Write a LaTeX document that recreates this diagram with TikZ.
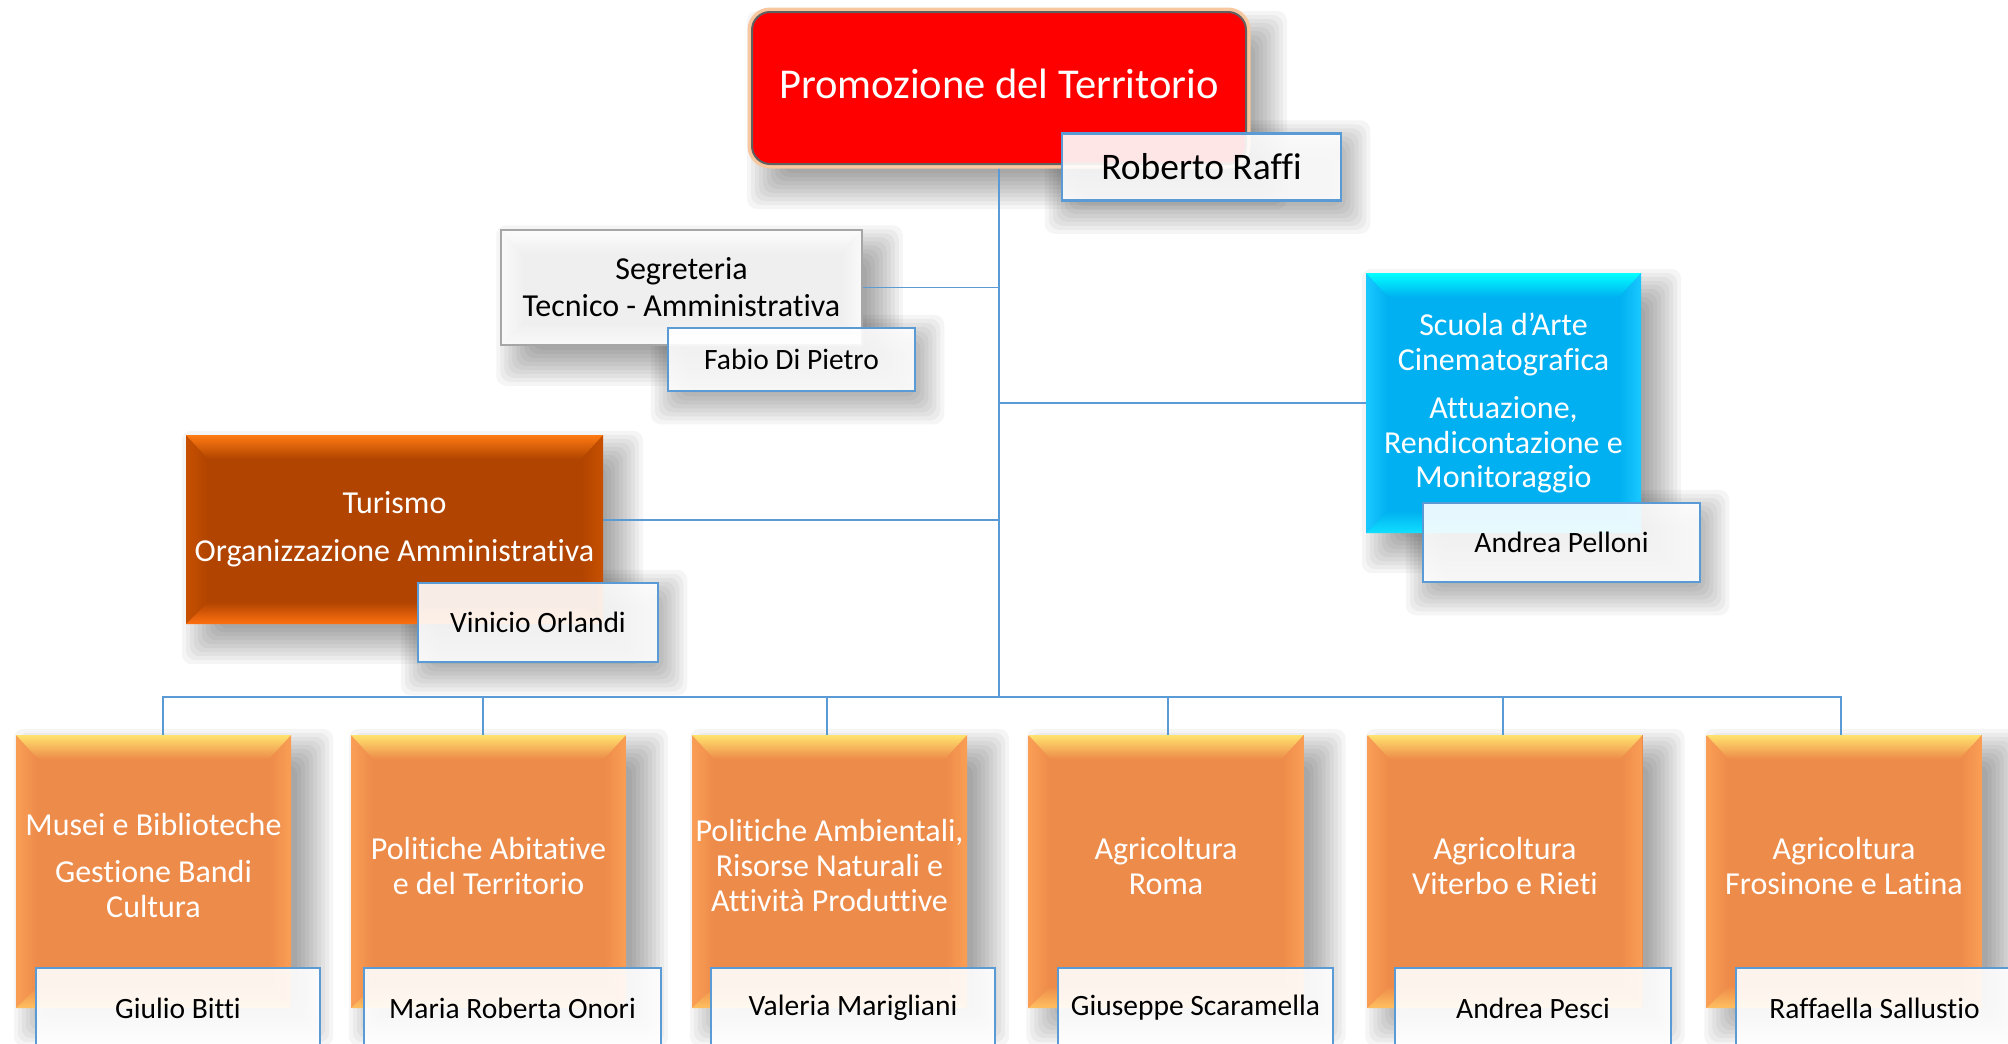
\documentclass[tikz,border=0pt]{standalone}
\usepackage{fontspec}
\setmainfont{Carlito}[Ligatures=NoCommon]
\usetikzlibrary{calc}
\definecolor{conn}{HTML}{5B9BD5}
\definecolor{nameb}{HTML}{5B9BD5}
\definecolor{orMain}{HTML}{ED8B4A}
\definecolor{orTop}{HTML}{FFE36E}
\definecolor{orSide}{HTML}{FA9E55}
\definecolor{orBot}{HTML}{FFC060}
\definecolor{tuMain}{HTML}{B04400}
\definecolor{tuTop}{HTML}{FF7A12}
\definecolor{tuSide}{HTML}{C85000}
\definecolor{tuBot}{HTML}{FF7010}
\definecolor{scMain}{HTML}{00B0F0}
\definecolor{scTop}{HTML}{00FFFF}
\definecolor{scSide}{HTML}{1AC8FF}
\definecolor{scBot}{HTML}{10E0FF}
\definecolor{sgMain}{HTML}{EFEFEF}
\definecolor{sgTop}{HTML}{FCFCFC}
\definecolor{sgSide}{HTML}{FAFAFA}
\definecolor{sgBot}{HTML}{FAFAFA}
\definecolor{glow}{HTML}{F7C7A0}
\definecolor{redbox}{HTML}{FF0000}

\pgfdeclarelayer{bg}
\pgfdeclarelayer{shadow}
\pgfdeclarelayer{links}
\pgfsetlayers{bg,shadow,links,main}

\newcommand\softshadow[3]{%
 \begin{pgfonlayer}{shadow}
 \foreach \e in {22,18,...,-14}{
   \pgfmathsetmacro\ax{#2-(\e)}\pgfmathsetmacro\ay{-#3+(\e)}
   \pgfmathsetmacro\bx{#2+(\e)}\pgfmathsetmacro\by{-#3-(\e)}
   \fill[black,opacity=0.038,rounded corners=10pt] ([shift={(\ax pt,\ay pt)}]#1.north west) rectangle ([shift={(\bx pt,\by pt)}]#1.south east);
 }
 \end{pgfonlayer}}

\tikzset{
 bevel/.style n args={4}{fill=#1, path picture={
   \path (path picture bounding box.north west) coordinate (Pa)
         (path picture bounding box.north east) coordinate (Pb)
         (path picture bounding box.south east) coordinate (Pc)
         (path picture bounding box.south west) coordinate (Pd);
   \path (Pa) ++(22pt,-24pt) coordinate (Qa)
         (Pb) ++(-22pt,-24pt) coordinate (Qb)
         (Pc) ++(-22pt,22pt) coordinate (Qc)
         (Pd) ++(22pt,22pt) coordinate (Qd);
   \shade[left color=#3,right color=#1] (Pa)--(Qa)--(Qd)--(Pd)--cycle;
   \shade[left color=#1,right color=#3] (Pb)--(Qb)--(Qc)--(Pc)--cycle;
   \shade[top color=#2,bottom color=#1] (Pa)--(Pb)--(Qb)--(Qa)--cycle;
   \shade[top color=#1,bottom color=#4] (Pd)--(Qd)--(Qc)--(Pc)--cycle;
 }},
 box/.style={inner sep=0pt, align=center, text=white, font=\fontsize{32}{35}\selectfont},
 botbox/.style={box, bevel={orMain}{orTop}{orSide}{orBot}, minimum width=275pt, minimum height=273pt},
 namebox/.style={draw=nameb, line width=2.5pt, fill=white, fill opacity=0.9, text opacity=1,
   text=black, inner sep=0pt, align=center, font=\fontsize{29.5}{35}\selectfont},
 link/.style={draw=conn, line width=1.8pt},
}

\begin{document}
\begin{tikzpicture}[x=1pt,y=-1pt]
\useasboundingbox (0,0) rectangle (2008,1044);
\begin{pgfonlayer}{bg}
\fill[white] (0,0) rectangle (2008,1044);
\end{pgfonlayer}

% top
\node[draw=gray!75!black, line width=2pt, rounded corners=18pt, fill=redbox,
  preaction={draw=glow, line width=9pt, rounded corners=18pt},
  minimum width=494pt, minimum height=152pt, inner sep=0pt, text=white,
  font=\fontsize{42.5}{48}\selectfont] (top) at (999,88) {\raisebox{9pt}{Promozione del Territorio}};
\node[namebox, minimum width=279pt, minimum height=67pt, font=\fontsize{37.5}{40}\selectfont] (raffi) at (1201.5,167) {Roberto Raffi};

% segreteria
\node[box, text=black, font=\fontsize{32}{37}\selectfont, draw=gray!70, line width=1.5pt,
  bevel={sgMain}{sgTop}{sgSide}{sgBot}, minimum width=361pt, minimum height=115pt] (seg) at (681.5,287.5)
  {Segreteria\\Tecnico - Amministrativa};
\node[namebox, minimum width=247pt, minimum height=63pt] (fabio) at (791.5,359.5) {Fabio Di Pietro};

% turismo
\node[box, font=\fontsize{32}{35}\selectfont, bevel={tuMain}{tuTop}{tuSide}{tuBot},
  minimum width=417pt, minimum height=189pt] (tur) at (394.5,529.5)
  {Turismo\\[13pt]Organizzazione Amministrativa};
\node[namebox, minimum width=240pt, minimum height=79pt] (orl) at (538,622.5) {Vinicio Orlandi};

% scuola
\node[box, font=\fontsize{32}{34.5}\selectfont, bevel={scMain}{scTop}{scSide}{scBot},
  minimum width=275pt, minimum height=260pt] (scu) at (1503.5,403)
  {Scuola d’Arte\\Cinematografica\\[14pt]Attuazione,\\Rendicontazione e\\Monitoraggio};
\node[namebox, minimum width=277pt, minimum height=79pt] (pel) at (1561.5,542.5) {Andrea Pelloni};

% bottom row
\node[botbox] (b1) at (153.5,871.5) {Musei e Biblioteche\\[12pt]Gestione Bandi\\Cultura\\[-23pt]};
\node[botbox] (b2) at (488.5,871.5) {Politiche Abitative\\e del Territorio\\[-23pt]};
\node[botbox] (b3) at (829.5,871.5) {Politiche Ambientali,\\Risorse Naturali e\\Attività Produttive\\[-23pt]};
\node[botbox] (b4) at (1166,871.5) {Agricoltura\\Roma\\[-23pt]};
\node[botbox] (b5) at (1505,871.5) {Agricoltura\\Viterbo e Rieti\\[-23pt]};
\node[botbox] (b6) at (1844,871.5) {Agricoltura\\Frosinone e Latina\\[-23pt]};

\node[namebox, minimum width=284pt, minimum height=80pt] (n1) at (178,1008) {Giulio Bitti};
\node[namebox, minimum width=297pt, minimum height=80pt] (n2) at (512.5,1008) {Maria Roberta Onori};
\node[namebox, minimum width=284pt, minimum height=80pt] (n3) at (853,1008) {Valeria Marigliani};
\node[namebox, minimum width=275pt, minimum height=80pt] (n4) at (1195.5,1008) {Giuseppe Scaramella};
\node[namebox, minimum width=276pt, minimum height=80pt] (n5) at (1533,1008) {Andrea Pesci};
\node[namebox, minimum width=277pt, minimum height=80pt] (n6) at (1874.5,1008) {Raffaella Sallustio};

% shadows
\softshadow{top}{18}{22}
\softshadow{raffi}{6}{10}
\softshadow{seg}{18}{18}
\softshadow{fabio}{6}{10}
\softshadow{tur}{18}{18}
\softshadow{orl}{6}{10}
\softshadow{scu}{18}{18}
\softshadow{pel}{6}{10}
\foreach \k in {1,...,6}{\softshadow{b\k}{20}{16}}

% connectors
\coordinate (bus) at (999,697);
\begin{pgfonlayer}{links}
\draw[link] (top.south) -- (bus);
\draw[link] (seg.east) -- (seg.east -| top.south);
\draw[link] (scu.west) -- (scu.west -| top.south);
\draw[link] ([yshift=9.5pt]tur.east) -- ([yshift=9.5pt]tur.east -| top.south);
\foreach \k/\s in {1/9.5,2/-5.5,3/-2.5,4/2,5/-2,6/-3}{\draw[link] ([xshift=\s pt]b\k.north) |- (bus);}
\end{pgfonlayer}
\end{tikzpicture}
\end{document}
